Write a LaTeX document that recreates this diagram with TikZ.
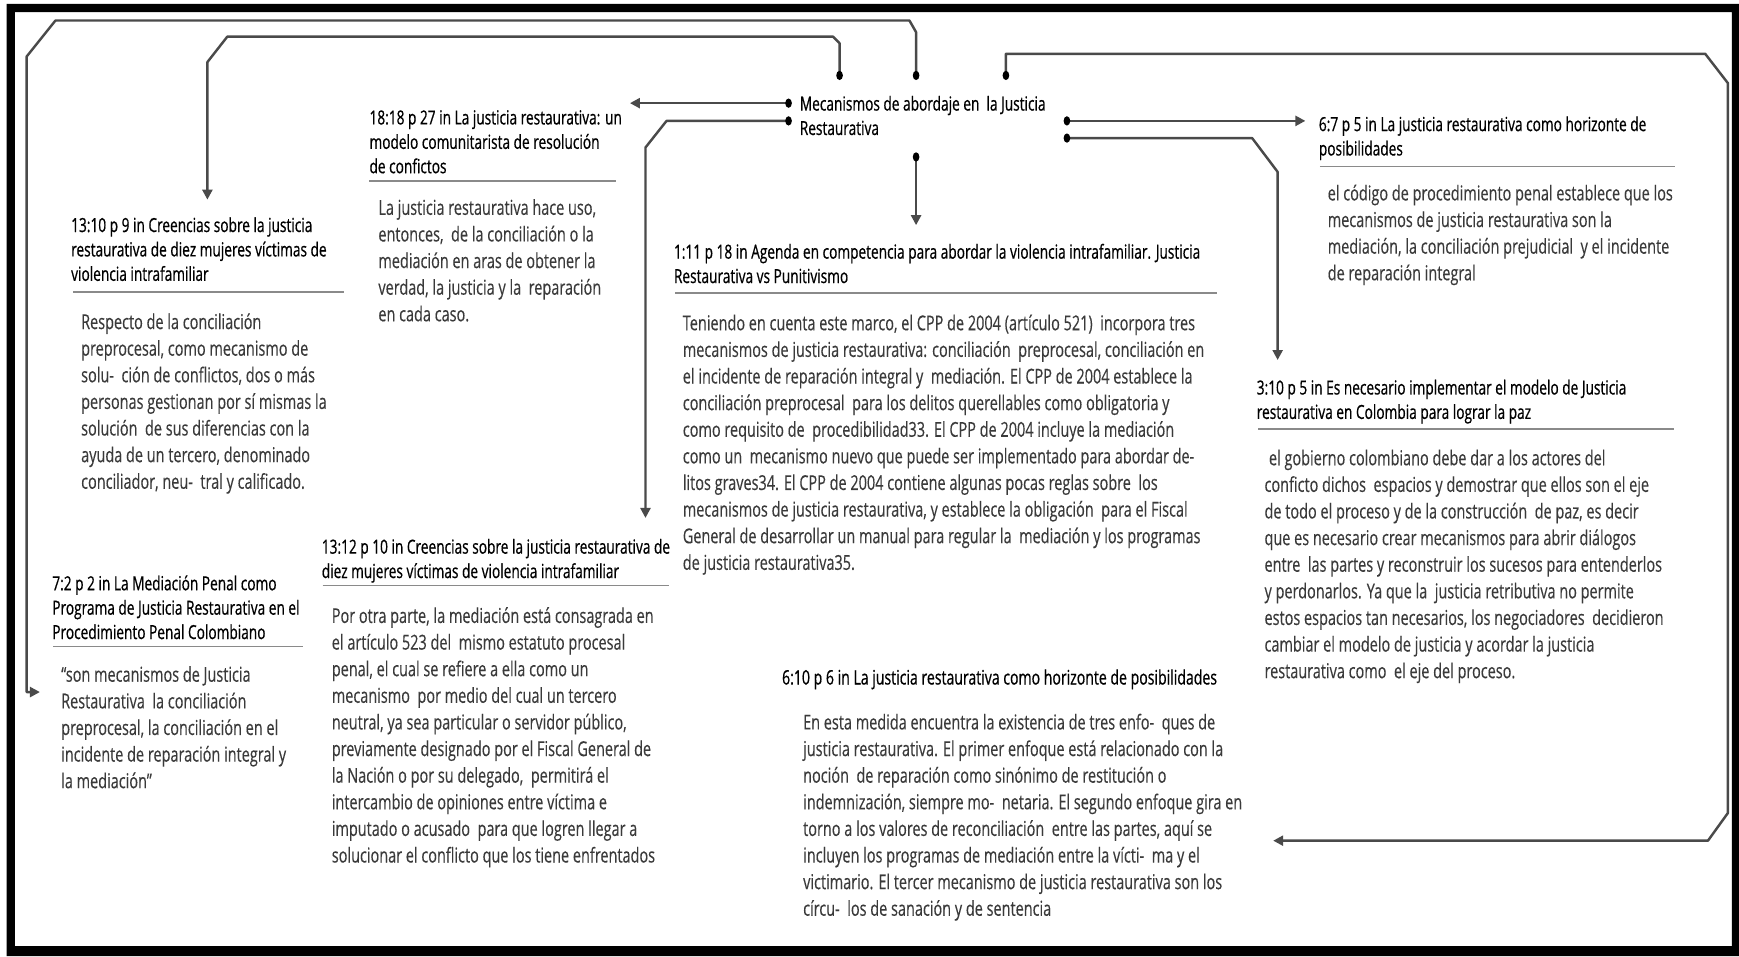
\documentclass[tikz,border=0pt]{standalone}
\usepackage{fontspec}
\setmainfont{Open Sans}[FakeStretch=0.705, FakeBold=0.25]
\newfontfamily\hdfam{Open Sans}[FakeStretch=0.705, FakeBold=0.6]
\usetikzlibrary{arrows.meta}
\definecolor{bodygray}{HTML}{3A3A3A}
\definecolor{linegray}{HTML}{4A4A4A}
\definecolor{rulegray}{HTML}{8A8A8A}
\newcommand\hdfont{\hdfam\fontsize{17.5}{22}\selectfont\lineskiplimit=-30pt}
\newcommand\bdfont{\fontsize{18.5}{24}\selectfont\lineskiplimit=-30pt}
\newcommand\firstln{\rule{0pt}{20pt}}
\begin{document}
\begin{tikzpicture}[x=1pt,y=-1pt,
  hd/.style={anchor=north west, inner sep=0pt, align=left, font=\hdfont, text=black},
  bd/.style={anchor=north west, inner sep=0pt, align=left, font=\bdfont, text=bodygray},
  conn/.style={draw=linegray, line width=2.2pt, line join=round},
  arr/.style={conn, -{Triangle[length=9pt,width=9pt]}},
  hrule/.style={draw=rulegray, line width=1.5pt},
  dotmark/.style={fill=black}]
\useasboundingbox (0,0) rectangle (1568,862);
\fill[white] (0,0) rectangle (1568,862);
\fill[black, even odd rule] (6,3.5) rectangle (1568,862) (13.5,11) rectangle (1561.5,853);

% hub
\node[hd] (hub) at (721,79.5) {\firstln Mecanismos de abordaje en~ la Justicia\\Restaurativa};

% 18:18
\node[hd] (h1818) at (333,92) {\firstln 18:18 p 27 in La justicia restaurativa: un\\modelo comunitarista de resolución\\de confictos};
\draw[hrule] (333,163) -- (555,163);
\node[bd] (b1818) at (341,173.5) {\firstln La justicia restaurativa hace uso,\\entonces,~ de la conciliación o la\\mediación en aras de obtener la\\verdad, la justicia y la~ reparación\\en cada caso.};

% 13:10
\node[hd] (h1310) at (64,189) {\firstln 13:10 p 9 in Creencias sobre la justicia\\restaurativa de diez mujeres víctimas de\\violencia intrafamiliar};
\draw[hrule] (66,263) -- (310,263);
\node[bd] (b1310) at (73,276.5) {\firstln Respecto de la conciliación\\preprocesal, como mecanismo de\\solu-~ ción de conflictos, dos o más\\personas gestionan por sí mismas la\\solución~ de sus diferencias con la\\ayuda de un tercero, denominado\\conciliador, neu-~ tral y calificado.};

% 1:11
\node[hd] (h111) at (607.5,213) {\firstln 1:11 p 18 in Agenda en competencia para abordar la violencia intrafamiliar. Justicia\\Restaurativa vs Punitivismo};
\draw[hrule] (608.7,264) -- (1097.6,264);
\node[bd] (b111) at (615.5,277.6) {\firstln Teniendo en cuenta este marco, el CPP de 2004 (artículo 521)~ incorpora tres\\mecanismos de justicia restaurativa: conciliación~ preprocesal, conciliación en\\el incidente de reparación integral y~ mediación. El CPP de 2004 establece la\\conciliación preprocesal~ para los delitos querellables como obligatoria y\\como requisito de~ procedibilidad33. El CPP de 2004 incluye la mediación\\como un~ mecanismo nuevo que puede ser implementado para abordar de-\\litos graves34. El CPP de 2004 contiene algunas pocas reglas sobre~ los\\mecanismos de justicia restaurativa, y establece la obligación~ para el Fiscal\\General de desarrollar un manual para regular la~ mediación y los programas\\de justicia restaurativa35.};

% 6:7
\node[hd] (h67) at (1189,98) {\firstln 6:7 p 5 in La justicia restaurativa como horizonte de\\posibilidades};
\draw[hrule] (1190,150) -- (1510,150);
\node[bd] (b67) at (1197,160.5) {\firstln el código de procedimiento penal establece que los\\mecanismos de justicia restaurativa son la\\mediación, la conciliación prejudicial~ y el incidente\\de reparación integral};

% 3:10
\node[hd] (h310) at (1133,335.5) {\firstln 3:10 p 5 in Es necesario implementar el modelo de Justicia\\restaurativa en Colombia para lograr la paz};
\draw[hrule] (1134.5,387) -- (1509.6,387);
\node[bd] (b310) at (1140,399.3) {\firstln\hspace{4pt}el gobierno colombiano debe dar a los actores del\\conficto dichos~ espacios y demostrar que ellos son el eje\\de todo el proceso y de la construcción~ de paz, es decir\\que es necesario crear mecanismos para abrir diálogos\\entre~ las partes y reconstruir los sucesos para entenderlos\\y perdonarlos. Ya que la~ justicia retributiva no permite\\estos espacios tan necesarios, los negociadores~ decidieron\\cambiar el modelo de justicia y acordar la justicia\\restaurativa como~ el eje del proceso.};

% 13:12
\node[hd] (h1312) at (290,479) {\firstln 13:12 p 10 in Creencias sobre la justicia restaurativa de\\diez mujeres víctimas de violencia intrafamiliar};
\draw[hrule] (291,528) -- (603,528);
\node[bd] (b1312) at (299,541.5) {\firstln Por otra parte, la mediación está consagrada en\\el artículo 523 del~ mismo estatuto procesal\\penal, el cual se refiere a ella como un\\mecanismo~ por medio del cual un tercero\\neutral, ya sea particular o servidor público,\\previamente designado por el Fiscal General de\\la Nación o por su delegado,~ permitirá el\\intercambio de opiniones entre víctima e\\imputado o acusado~ para que logren llegar a\\solucionar el conflicto que los tiene enfrentados};

% 7:2
\node[hd] (h72) at (47,512) {\firstln 7:2 p 2 in La Mediación Penal como\\Programa de Justicia Restaurativa en el\\Procedimiento Penal Colombiano};
\draw[hrule] (48,583) -- (273,583);
\node[bd] (b72) at (55,594.5) {\firstln “son mecanismos de Justicia\\Restaurativa~ la conciliación\\preprocesal, la conciliación en el\\incidente de reparación integral y\\la mediación”};

% 6:10
\node[hd, font=\hdfam\fontsize{18}{22}\selectfont] (h610) at (705,597) {\firstln 6:10 p 6 in La justicia restaurativa como horizonte de posibilidades};
\node[bd] (b610) at (724,637.5) {\firstln En esta medida encuentra la existencia de tres enfo-~ ques de\\justicia restaurativa. El primer enfoque está relacionado con la\\noción~ de reparación como sinónimo de restitución o\\indemnización, siempre mo-~ netaria. El segundo enfoque gira en\\torno a los valores de reconciliación~ entre las partes, aquí se\\incluyen los programas de mediación entre la vícti-~ ma y el\\victimario. El tercer mecanismo de justicia restaurativa son los\\círcu-~ los de sanación y de sentencia};

% connector end points
\coordinate (dA) at (826,68);
\coordinate (dB) at (757,68);
\coordinate (dC) at (711,93);
\coordinate (dD) at (711,109);
\coordinate (dE) at (826,141.5);
\coordinate (dF) at (962,109);
\coordinate (dG) at (962,124.5);
\coordinate (dH) at (907,68);
\coordinate (tA) at (36,624);
\coordinate (tB) at (187,180);
\coordinate (tC) at (568,93);
\coordinate (tD) at (582,467);
\coordinate (tE) at (826,203);
\coordinate (tF) at (1177,109);
\coordinate (tG) at (1152,324.6);
\coordinate (tH) at (1148,758);

\draw[arr] (dA) -- (826,29) -- (820,18.5) -- (50,18.5) -- (24,51) -- (24,624) -- (tA);
\draw[arr] (dB) -- (757,39) -- (751,33) -- (205,33) -- (187,56) -- (tB);
\draw[arr] (dC) -- (tC);
\draw[arr] (dD) -- (601,109) -- (582,133) -- (tD);
\draw[arr] (dE) -- (tE);
\draw[arr] (dF) -- (tF);
\draw[arr] (dG) -- (1129,124.5) -- (1152,155) -- (tG);
\draw[arr] (dH) -- (907,48.5) -- (1537.5,48.5) -- (1558,75) -- (1558,733) -- (1540,758) -- (tH);

\foreach \d in {dA,dB,dC,dD,dE,dF,dG,dH}
  \fill[dotmark] (\d) ellipse [x radius=3pt, y radius=4.2pt];
\end{tikzpicture}
\end{document}
